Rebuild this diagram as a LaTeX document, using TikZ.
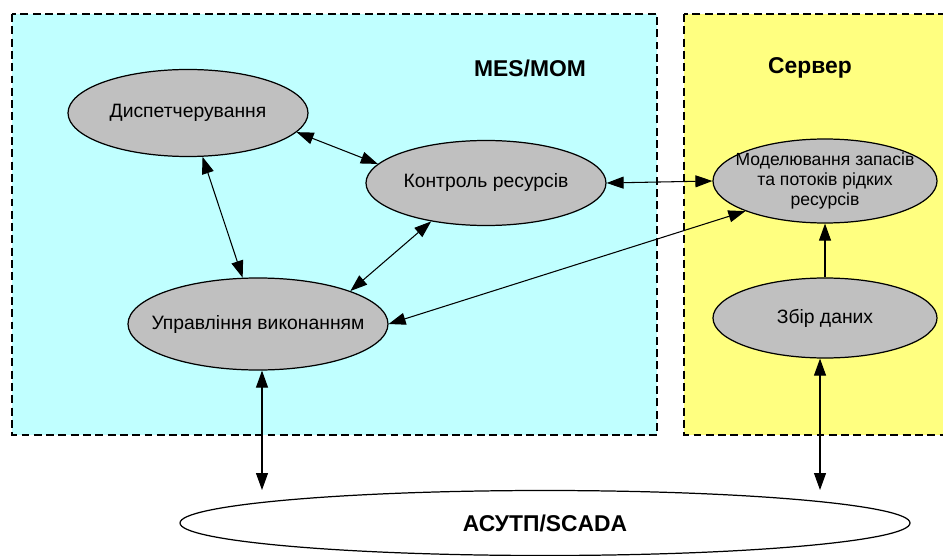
\documentclass[tikz,border=0pt]{standalone}
\usepackage{fontspec}
\setmainfont{Liberation Sans}
\usepackage{tikz}
\usetikzlibrary{shapes.geometric,arrows.meta}
\definecolor{mescyan}{RGB}{192,255,255}
\definecolor{servyellow}{RGB}{255,255,128}
\definecolor{nodegray}{RGB}{192,192,192}
\tikzset{
    zone/.style={dashed,dash pattern=on 4.5pt off 2.5pt,line width=0.7pt},
    task/.style={ellipse,draw,line width=0.7pt,fill=nodegray,inner ysep=0pt,inner xsep=-14pt,align=center,font=\fontsize{11}{12.5}\selectfont},
    link/.style={{Triangle[length=3.4mm,width=2.4mm]}-{Triangle[length=3.4mm,width=2.4mm]},line width=0.6pt},
    onelink/.style={-{Triangle[length=3.4mm,width=2.4mm]},line width=0.6pt}
}

\begin{document}
\begin{tikzpicture}
\useasboundingbox (0,0) rectangle (18.86,-11.12);
\clip (0,0) rectangle (18.86,-11.12);
\fill[white] (0,0) rectangle (18.86,-11.12);
\draw[zone,fill=mescyan] (0.24,-0.28) rectangle (13.14,-8.70);
\draw[zone,fill=servyellow] (13.68,-0.28) rectangle (19.2,-8.70);
\node[font=\fontsize{13}{15}\bfseries] (mes) at (10.6,-1.36) {MES/MOM};
\node[font=\fontsize{13}{15}\bfseries] (serv) at (16.2,-1.36) {Сервер};
\node[task,minimum width=4.8cm,minimum height=1.74cm] (D) at (3.76,-2.26) {Диспетчерування};
\node[task,minimum width=4.8cm,minimum height=1.7cm] (K) at (9.72,-3.66) {Контроль ресурсів};
\node[task,minimum width=5.2cm,minimum height=1.84cm] (U) at (5.16,-6.48) {Управління виконанням};
\node[task,minimum width=4.48cm,minimum height=1.68cm,font=\fontsize{10}{11.5}\selectfont] (M) at (16.5,-3.62) {Моделювання запасів\\та потоків рідких\\ресурсів};
\node[task,minimum width=4.48cm,minimum height=1.6cm] (Z) at (16.5,-6.36) {Збір даних};
\node[ellipse,draw,line width=0.7pt,fill=white,inner sep=0pt,minimum width=14.6cm,minimum height=1.3cm,font=\fontsize{13}{15}\bfseries] (A) at (10.9,-10.46) {АСУТП/SCADA};
\coordinate (A1) at (5.24,-9.8);
\coordinate (A2) at (16.4,-9.8);
\draw[link] (D.-10) -- (K.170);
\draw[link] (D) -- (U);
\draw[link] (K.215) -- (U.north east);
\draw[link] (K.east) -- (M.west);
\draw[link] (U.east) -- (M.south west);
\draw[onelink] (Z.north) -- (M.south);
\draw[link] (U.south -| A1) -- (A1);
\draw[link] (Z.south -| A2) -- (A2);
\end{tikzpicture}
\end{document}
